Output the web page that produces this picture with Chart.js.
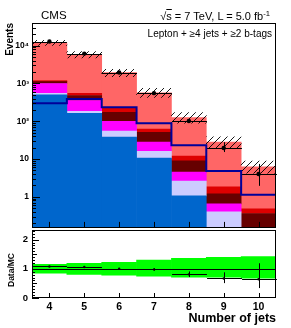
<!DOCTYPE html>
<html>
<head>
<meta charset="utf-8">
<script src="https://cdn.jsdelivr.net/npm/chart.js@4.4.0/dist/chart.umd.min.js"></script>
<style>
  body { margin: 0; background: #fff; overflow: hidden; }
  #wrap { position: relative; width: 291px; height: 328px; font-family: "Liberation Sans", Arial, sans-serif; }
  canvas { position: absolute; left: 0; }
  .t { position: absolute; line-height: 1; white-space: nowrap; color: #000; }
  .rot { transform-origin: 0 0; }
  .sup { font-size: 0.7em; position: relative; top: -0.45em; }
</style>
</head>
<body>
<div id="wrap">
  <canvas id="main" width="291" height="236" style="top:0"></canvas>
  <canvas id="ratio" width="291" height="108" style="top:220px"></canvas>
  <div class="t" style="left:41px;top:10px;font-size:11.5px;">CMS</div>
  <div class="t" style="right:21px;top:10.5px;font-size:11px;">√<span style="text-decoration:overline">s</span> = 7 TeV, L = 5.0 fb<span class="sup">-1</span></div>
  <div class="t" style="right:19px;top:29px;font-size:10px;">Lepton + ≥4 jets + ≥2 b-tags</div>
  <div class="t" style="right:15px;top:311.5px;font-size:12.5px;font-weight:bold;">Number of jets</div>
  <div class="t rot" style="left:5px;top:23px;font-size:10px;font-weight:bold;transform:rotate(-90deg) translate(-100%,0);">Events</div>
  <div class="t rot" style="left:7px;top:270px;font-size:8.5px;font-weight:bold;transform:rotate(-90deg) translate(-50%,0);">Data/MC</div>
</div>
<script>
// jet multiplicity bins
const jets = ["4", "5", "6", "7", "8", "9", "10"];
const edges = [3.5, 4.5, 5.5, 6.5, 7.5, 8.5, 9.5, 10.5];

// stacked MC contributions, bottom to top
const blue = [500, 163, 38, 10.6, 1.06, 0.08, 0.02];
const lavender = [45, 20, 17, 5.4, 1.54, 0.32, 0.03];
const magenta = [455, 172, 45, 12, 1.9, 0.25, 0.05];
const maroon = [120, 125, 72, 23, 4.4, 0.55, 0.26];
const red = [80, 65, 48, 11, 3.1, 0.63, 0.12];
const salmon = [10800, 5355, 1730, 508, 113, 26.2, 5.72];

// dark blue outline histogram
const lineVals = [300, 390, 234, 89, 23, 4.8, 1.13];

// data
const dataVals = [12900, 6200, 1950, 555, 102, 19.5, 4.0];
const dataLo = [12790, 6120, 1905, 532, 92, 15.3, 1.95];
const dataHi = [13010, 6280, 1995, 578, 112, 28, 7.4];

// ratio panel
const ratio = [1.08, 1.06, 1.0, 0.98, 0.81, 0.67, 0.64];
const ratioLo = [1.07, 1.05, 0.98, 0.94, 0.72, 0.51, 0.34];
const ratioHi = [1.09, 1.07, 1.02, 1.02, 0.91, 0.88, 1.19];
const bandLo = [0.85, 0.81, 0.78, 0.75, 0.71, 0.71, 0.68];
const bandHi = [1.15, 1.19, 1.22, 1.30, 1.36, 1.39, 1.42];

Chart.defaults.font.family = "'Liberation Sans', Arial, sans-serif";
Chart.defaults.color = "#000";

const mcTotal = jets.map((_, i) => blue[i] + lavender[i] + magenta[i] + maroon[i] + red[i] + salmon[i]);
const hatchBand = mcTotal.map((t, i) => [t * bandLo[i], t * bandHi[i]]);
const stepPts = edges.map((e, i) => ({ x: e, y: lineVals[Math.min(i, lineVals.length - 1)] }));

// hatch pattern for MC uncertainty
const pc = document.createElement("canvas");
pc.width = 7; pc.height = 7;
const pctx = pc.getContext("2d");
pctx.strokeStyle = "#000";
pctx.lineWidth = 0.9;
pctx.beginPath();
pctx.moveTo(0, 7); pctx.lineTo(7, 0);
pctx.moveTo(-1, 1); pctx.lineTo(1, -1);
pctx.moveTo(6, 8); pctx.lineTo(8, 6);
pctx.stroke();
const hatch = document.getElementById("main").getContext("2d").createPattern(pc, "repeat");

function stackBar(label, data, color) {
  return { type: "bar", label, data, backgroundColor: color, borderWidth: 0, stack: "mc", order: 5,
           grouped: false, barPercentage: 1, categoryPercentage: 1 };
}

function supLabel(v) {
  const lg = Math.log10(v);
  if (v < 1 || Math.abs(lg - Math.round(lg)) > 1e-6) return "";
  const n = Math.round(lg);
  if (n === 0) return "1";
  if (n === 1) return "10";
  return "10" + "⁰¹²³⁴⁵⁶⁷⁸⁹"[n];
}

const mainDecor = {
  id: "mainDecor",
  afterDatasetsDraw(chart) {
    const { ctx, chartArea: a, scales: { x, y } } = chart;
    ctx.save();
    ctx.strokeStyle = "#000";
    ctx.lineWidth = 1;
    const hw = (x.getPixelForValue(1) - x.getPixelForValue(0)) / 2;
    ctx.beginPath();
    dataVals.forEach((v, i) => {
      const cx = Math.round(x.getPixelForValue(i)) + 0.5;
      const cy = Math.round(y.getPixelForValue(v)) + 0.5;
      ctx.moveTo(cx - hw, cy); ctx.lineTo(cx + hw, cy);
      ctx.moveTo(cx, y.getPixelForValue(dataLo[i])); ctx.lineTo(cx, y.getPixelForValue(dataHi[i]));
    });
    ctx.stroke();
    // ticks
    ctx.beginPath();
    for (let d = -1; d <= 4; d++) {
      for (let k = 1; k <= 9; k++) {
        const v = k * Math.pow(10, d);
        if (v < y.min || v > y.max) continue;
        const py = Math.round(y.getPixelForValue(v)) + 0.5;
        ctx.moveTo(a.left, py); ctx.lineTo(a.left + (k === 1 ? 8 : 4), py);
      }
    }
    jets.forEach((_, i) => {
      const px = Math.round(x.getPixelForValue(i)) + 0.5;
      ctx.moveTo(px, a.bottom); ctx.lineTo(px, a.bottom - 6);
    });
    ctx.stroke();
    ctx.strokeRect(Math.round(a.left) + 0.5, Math.round(a.top) + 0.5, Math.round(a.right - a.left) - 1, Math.round(a.bottom - a.top) - 1);
    ctx.restore();
  }
};

const ratioDecor = {
  id: "ratioDecor",
  afterDatasetsDraw(chart) {
    const { ctx, chartArea: a, scales: { x, y } } = chart;
    ctx.save();
    ctx.strokeStyle = "#000";
    ctx.lineWidth = 1;
    const hw = (x.getPixelForValue(1) - x.getPixelForValue(0)) / 2;
    ctx.beginPath();
    const one = Math.round(y.getPixelForValue(1)) + 0.5;
    ctx.moveTo(a.left, one); ctx.lineTo(a.right, one);
    ratio.forEach((v, i) => {
      const cx = Math.round(x.getPixelForValue(i)) + 0.5;
      const cy = Math.round(y.getPixelForValue(v)) + 0.5;
      ctx.moveTo(cx - hw, cy); ctx.lineTo(cx + hw, cy);
      ctx.moveTo(cx, y.getPixelForValue(ratioLo[i])); ctx.lineTo(cx, y.getPixelForValue(ratioHi[i]));
    });
    ctx.stroke();
    ctx.beginPath();
    for (let s = 0; s <= 23; s++) {
      const v = s / 10;
      const py = Math.round(y.getPixelForValue(v)) + 0.5;
      const len = s % 10 === 0 ? 7 : (s % 5 === 0 ? 5 : 3);
      ctx.moveTo(a.left, py); ctx.lineTo(a.left + len, py);
    }
    jets.forEach((_, i) => {
      const px = Math.round(x.getPixelForValue(i)) + 0.5;
      ctx.moveTo(px, a.bottom); ctx.lineTo(px, a.bottom - 5);
    });
    ctx.stroke();
    ctx.strokeRect(Math.round(a.left) + 0.5, Math.round(a.top) + 0.5, Math.round(a.right - a.left) - 1, Math.round(a.bottom - a.top) - 1);
    ctx.restore();
  }
};

new Chart("main", {
  data: {
    labels: jets,
    datasets: [
      stackBar("blue", blue, "#0066cc"),
      stackBar("lavender", lavender, "#ccccff"),
      stackBar("magenta", magenta, "#ff00ff"),
      stackBar("maroon", maroon, "#660000"),
      stackBar("red", red, "#dd0000"),
      stackBar("salmon", salmon, "#ff6666"),
      { type: "bar", label: "MC unc.", data: hatchBand, backgroundColor: hatch, borderWidth: 0, stack: "unc",
        order: 2, grouped: false, barPercentage: 1, categoryPercentage: 1 },
      { type: "line", label: "outline", data: stepPts, xAxisID: "xl", stepped: "before", borderColor: "#000099",
        borderWidth: 2, pointRadius: 0, fill: false, order: 1, stack: "outline" },
      { type: "line", label: "Data", data: dataVals, showLine: false, pointRadius: 2.2, pointBackgroundColor: "#000",
        pointBorderWidth: 0, order: 0, stack: "data" },
    ],
  },
  options: {
    responsive: false,
    animation: false,
    layout: { padding: { top: 23, right: 15, bottom: 7, left: 0 } },
    plugins: { legend: { display: false }, tooltip: { enabled: false } },
    scales: {
      x: { type: "category", display: false },
      xl: { type: "linear", min: 3.5, max: 10.5, display: false },
      y: {
        type: "logarithmic",
        min: 0.15,
        max: 40000,
        stacked: true,
        grid: { display: false, drawTicks: false },
        border: { display: false },
        ticks: { autoSkip: false, padding: 3, font: { size: 8.5, weight: "bold" }, callback: (v) => supLabel(v) },
        afterFit(s) { s.width = 32; },
      },
    },
  },
  plugins: [mainDecor],
});

new Chart("ratio", {
  data: {
    labels: jets,
    datasets: [
      { type: "bar", label: "MC unc.", data: jets.map((_, i) => [bandLo[i], bandHi[i]]), backgroundColor: "#00ff00",
        borderWidth: 0, grouped: false, barPercentage: 1, categoryPercentage: 1, order: 2 },
      { type: "line", label: "Data/MC", data: ratio, showLine: false, pointRadius: 1.2, pointBackgroundColor: "#000",
        pointBorderWidth: 0, order: 0 },
    ],
  },
  options: {
    responsive: false,
    animation: false,
    layout: { padding: { top: 9, right: 15, bottom: 15, left: 0 } },
    plugins: { legend: { display: false }, tooltip: { enabled: false } },
    scales: {
      x: {
        type: "category",
        grid: { display: false, drawTicks: false },
        border: { display: false },
        ticks: { padding: 3, font: { size: 10.5, weight: "bold" } },
        afterFit(s) { s.height = 15; },
      },
      y: {
        min: 0,
        max: 2.34,
        grid: { display: false, drawTicks: false },
        border: { display: false },
        ticks: { stepSize: 1, includeBounds: false, padding: 4, font: { size: 9.5, weight: "bold" },
                 callback: (v) => (Number.isInteger(v) ? String(v) : "") },
        afterFit(s) { s.width = 32; },
      },
    },
  },
  plugins: [ratioDecor],
});
</script>
</body>
</html>
